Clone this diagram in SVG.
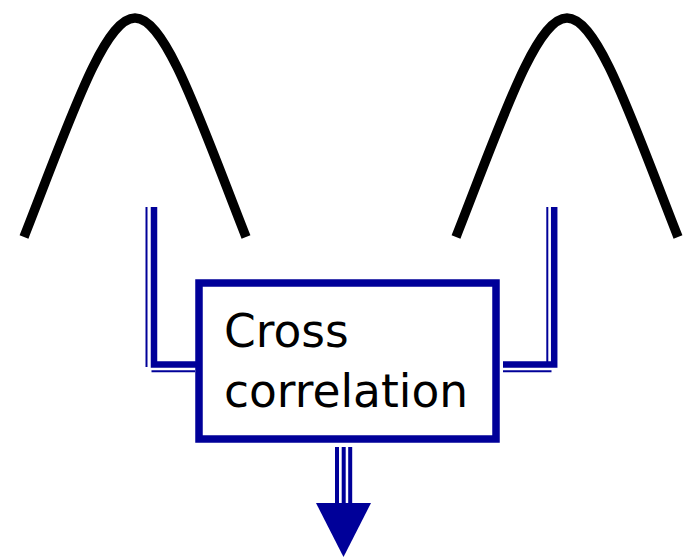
<svg xmlns="http://www.w3.org/2000/svg" width="693" height="557" viewBox="0 0 693 557">
<style>
.curve{fill:none;stroke:#000;stroke-width:9.5;stroke-linecap:butt}
.thick{fill:none;stroke:#000099;stroke-width:6.5}
.thin{fill:none;stroke:#000099;stroke-width:2}
.stem{fill:none;stroke:#000099;stroke-width:4}
.box{fill:#fff;stroke:#000099;stroke-width:7.5}
.label{font-family:"DejaVu Sans",Verdana,sans-serif;font-size:45.5px;fill:#000}
</style>
<rect width="693" height="557" fill="#fff"/>
<g id="signal-left">
<path class="curve" d="M24,237 C70,120 104,18 135,18 C166,18 200,120 246,237"/>
</g>
<g id="signal-right">
<path class="curve" d="M456,237 C502,120 536,18 567,18 C598,18 632,120 678,237"/>
</g>
<g id="connectors">
<path class="thick" d="M154,207 V364.5 H197"/>
<path class="thin" d="M146.5,207 V367"/>
<path class="thin" d="M151.5,371.3 H195"/>
<path class="thick" d="M554.2,207 V364.4 H503"/>
<path class="thin" d="M547.3,207 V365"/>
<path class="thin" d="M503,371.3 H551.5"/>
<path class="stem" d="M337,447 V504 M343.7,447 V504 M350.2,447 V504"/>
<polygon points="316,503 371,503 343.5,557" fill="#000099"/>
</g>
<g id="cross-correlation">
<rect class="box" x="199" y="283" width="297" height="156"/>
<text class="label" x="224" y="346.5">Cross</text>
<text class="label" x="224" y="406.5">correlation</text>
</g>
</svg>
